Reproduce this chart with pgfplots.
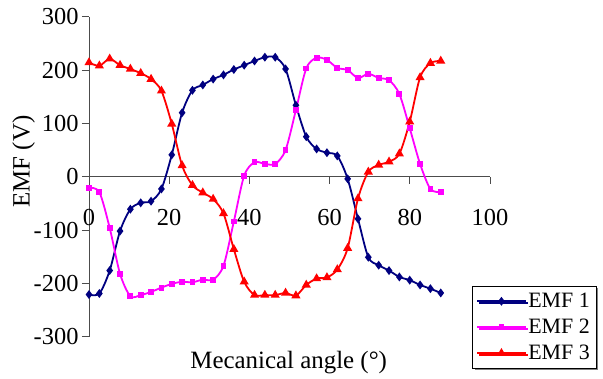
\documentclass[border=0pt]{standalone}
\usepackage{pgfplots}
\usepackage{pgfplotstable}
\pgfplotsset{compat=1.18}
\usepackage{fontspec}
\setmainfont{Liberation Serif}
\usetikzlibrary{shadows}
\definecolor{navy}{RGB}{0,0,128}
\definecolor{emfmag}{RGB}{255,0,255}
\definecolor{emfred}{RGB}{255,0,0}
\pgfplotstableread{
x b m r
0.00 -221 -21 214
2.58 -219 -29 208
5.16 -176 -96 221
7.74 -102 -182 209
10.32 -61 -224 202
12.90 -49 -222 194
15.48 -46 -216 183
18.06 -23 -208 161
20.64 41 -201 99
23.22 120 -197 21
25.80 162 -198 -16
28.38 172 -193 -30
30.96 183 -193 -42
33.54 191 -167 -69
36.12 201 -84 -136
38.70 209 2 -197
41.28 217 27 -222
43.86 224 24 -222
46.44 224 24 -222
49.02 202 50 -218
51.60 134 125 -223
54.18 75 203 -203
56.76 52 223 -191
59.34 45 219 -189
61.92 39 204 -174
64.50 -4 200 -134
67.08 -79 185 -41
69.66 -151 193 9
72.24 -166 185 22
74.82 -176 181 28
77.40 -188 155 43
79.98 -194 91 103
82.56 -203 24 186
85.14 -210 -23 213
87.72 -218 -29 217
}\emfdata
\begin{document}
\begin{tikzpicture}
\begin{axis}[
  at={(0,0)}, anchor=origin,
  x=4.01bp, y=0.5333bp,
  xmin=0, xmax=100, ymin=-300, ymax=300,
  axis x line*=middle, axis y line*=left,
  hide obscured x ticks=false, hide obscured y ticks=false,
  axis line style={black!70, line width=0.8bp},
  xtick={0,20,40,60,80,100},
  xticklabels={\mbox{0},\mbox{20},\mbox{40},\mbox{60},\mbox{80},\mbox{100}},
  ytick={-300,-200,-100,0,100,200,300},
  yticklabels={\mbox{-300},\mbox{-200},\mbox{-100},\mbox{0},\mbox{100},\mbox{200},\mbox{300}},
  tick align=outside, major tick length=7bp,
  tick style={black!70, line width=0.8bp},
  xticklabel style={yshift=-22bp},
  tick label style={font=\fontsize{24.5}{24.5}\selectfont},
  label style={font=\fontsize{25}{25}\selectfont},
  xlabel={Mecanical angle (°)},
  xlabel style={at={(axis description cs:0.498,-0.08)}, anchor=center},
  ylabel={EMF (V)},
  ylabel style={at={(axis description cs:-0.163,0.5475)}, anchor=center},
  clip=false,
  legend style={at={(axis description cs:0.956,0.158)}, anchor=north west,
    draw=black, thin, fill=white,
    font=\fontsize{22}{22}\selectfont,
    inner xsep=4bp, inner ysep=5bp, row sep=6bp,
    general shadow={fill=black!50, shadow xshift=2bp, shadow yshift=-2bp}},
  legend cell align=left,
  legend image code/.code={\draw[mark repeat=2,mark phase=2,#1] plot coordinates {(0bp,0bp) (24bp,0bp) (48bp,0bp)};},
]
\addplot[color=navy, line width=1.8bp, smooth, tension=0.5, mark=diamond*, mark size=3bp, mark options={solid}] table[x=x,y=b]{\emfdata};
\addplot[color=emfmag, line width=1.8bp, smooth, tension=0.5, mark=square*, mark size=2bp, mark options={solid}] table[x=x,y=m]{\emfdata};
\addplot[color=emfred, line width=1.8bp, smooth, tension=0.5, mark=triangle*, mark size=3.5bp, mark options={solid}] table[x=x,y=r]{\emfdata};
\legend{EMF 1, EMF 2, EMF 3}
\end{axis}
\pgfresetboundingbox
\path[use as bounding box] (-89bp,-202.3bp) rectangle (514bp,176.7bp);
\end{tikzpicture}
\end{document}
